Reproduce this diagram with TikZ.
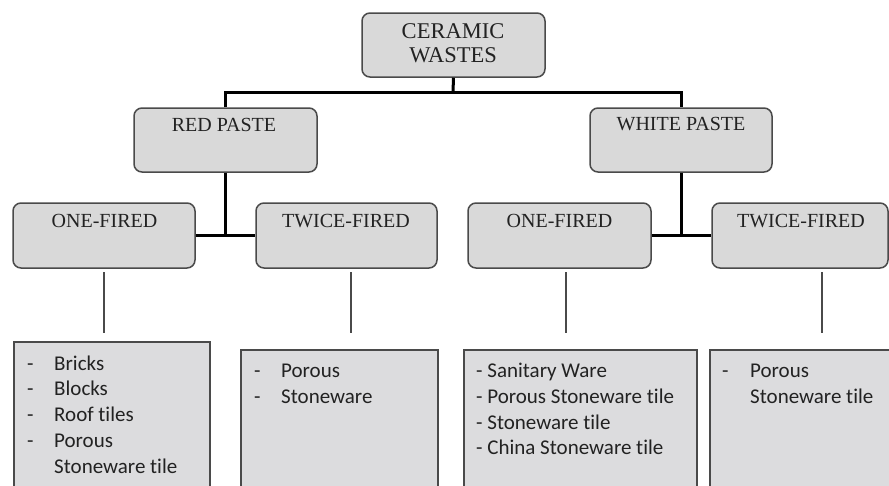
\documentclass[tikz,border=0pt]{standalone}
\usepackage{fontspec}
\setmainfont{Liberation Serif}
\newfontfamily\carlito[Ligatures=NoCommon]{Carlito}
\definecolor{boxfill}{HTML}{D9D9D9}
\definecolor{listfill}{HTML}{DCDCDE}
\definecolor{edge}{HTML}{4A4A4A}
\definecolor{txt}{HTML}{222222}
\tikzset{
  rbox/.style={draw=edge, line width=1.5pt, fill=boxfill, rounded corners=8pt, inner sep=0pt},
  lbox/.style={draw=edge, line width=1.5pt, fill=listfill, inner sep=0pt, anchor=north west},
  head/.style={anchor=base, inner sep=0pt, text=txt, font=\fontsize{20}{24}\selectfont},
  bighead/.style={head, font=\fontsize{22.5}{26}\selectfont},
  item/.style={anchor=base west, inner sep=0pt, text=txt, font=\carlito\fontsize{21}{25}\selectfont},
  thick link/.style={line width=3pt, black},
  thin link/.style={line width=1.5pt, draw=edge}
}
\begin{document}
\begin{tikzpicture}[x=1pt,y=-1pt]
\useasboundingbox[fill=white] (0,0) rectangle (889,485);
% rounded boxes
\node[rbox, minimum width=183pt, minimum height=64pt] (cw) at (453.5,45) {};
\node[rbox, minimum width=183pt, minimum height=64pt] (red) at (225.5,140) {};
\node[rbox, minimum width=182pt, minimum height=64pt] (white) at (681,140) {};
\node[rbox, minimum width=182pt, minimum height=65pt] (of1) at (104,235.5) {};
\node[rbox, minimum width=181pt, minimum height=65pt] (tf1) at (346.5,235.5) {};
\node[rbox, minimum width=183pt, minimum height=65pt] (of2) at (559.5,235.5) {};
\node[rbox, minimum width=176pt, minimum height=65pt] (tf2) at (800,235.5) {};
% headings
\node[bighead] (cwa) at (453,38) {CERAMIC};
\node[bighead] (cwb) at (453,62) {WASTES};
\node[head] (redt) at (224,131) {RED PASTE};
\node[head] (whitet) at (681,130.5) {WHITE PASTE};
\node[head] (of1t) at (104.5,227) {ONE-FIRED};
\node[head] (tf1t) at (346,227) {TWICE-FIRED};
\node[head] (of2t) at (559.5,227) {ONE-FIRED};
\node[head] (tf2t) at (801,227) {TWICE-FIRED};
% thick connectors
\coordinate (j1) at (453,92);
\draw[thick link] (cw.south) -- (j1);
\draw[thick link] (red.north) |- (j1) -| (white.north);
\draw[thick link] (red.south) -- (red.south |- of1.east);
\draw[thick link] (of1.east) -- (tf1.west);
\draw[thick link] (white.south) -- (white.south |- of2.east);
\draw[thick link] (of2.east) -- (tf2.west);
% thin lines
\coordinate (a1) at (104,272); \coordinate (a2) at (104,333);
\coordinate (b1) at (351,272); \coordinate (b2) at (351,333);
\coordinate (c1) at (566,272); \coordinate (c2) at (566,333);
\coordinate (d1) at (822,272); \coordinate (d2) at (822,333);
\draw[thin link] (a1) -- (a2);
\draw[thin link] (b1) -- (b2);
\draw[thin link] (c1) -- (c2);
\draw[thin link] (d1) -- (d2);
% list boxes
\node[lbox, minimum width=196pt, minimum height=160pt] (l1) at (13,341) {};
\node[lbox, minimum width=197pt, minimum height=160pt] (l2) at (240,349) {};
\node[lbox, minimum width=233pt, minimum height=160pt] (l3) at (463,349) {};
\node[lbox, minimum width=200pt, minimum height=160pt] (l4) at (709,349) {};
% list 1
\node[item] (l1d1) at (27,370) {-};
\node[item] (l1t1) at (54,370) {Bricks};
\node[item] (l1d2) at (27,395.8) {-};
\node[item] (l1t2) at (54,395.8) {Blocks};
\node[item] (l1d3) at (27,421.6) {-};
\node[item] (l1t3) at (54,421.6) {Roof tiles};
\node[item] (l1d4) at (27,447.4) {-};
\node[item] (l1t4) at (54,447.4) {Porous};
\node[item] (l1t5) at (54,473.2) {Stoneware tile};
% list 2
\node[item] (l2d1) at (254,377) {-};
\node[item] (l2t1) at (281,377) {Porous};
\node[item] (l2d2) at (254,403) {-};
\node[item] (l2t2) at (281,403) {Stoneware};
% list 3
\node[item] (l3t1) at (476,377) {- Sanitary Ware};
\node[item] (l3t2) at (476,403) {- Porous Stoneware tile};
\node[item] (l3t3) at (476,429) {- Stoneware tile};
\node[item] (l3t4) at (476,454.5) {- China Stoneware tile};
% list 4
\node[item] (l4d1) at (722,377) {-};
\node[item] (l4t1) at (750,377) {Porous};
\node[item] (l4t2) at (750,403) {Stoneware tile};
\end{tikzpicture}
\end{document}
